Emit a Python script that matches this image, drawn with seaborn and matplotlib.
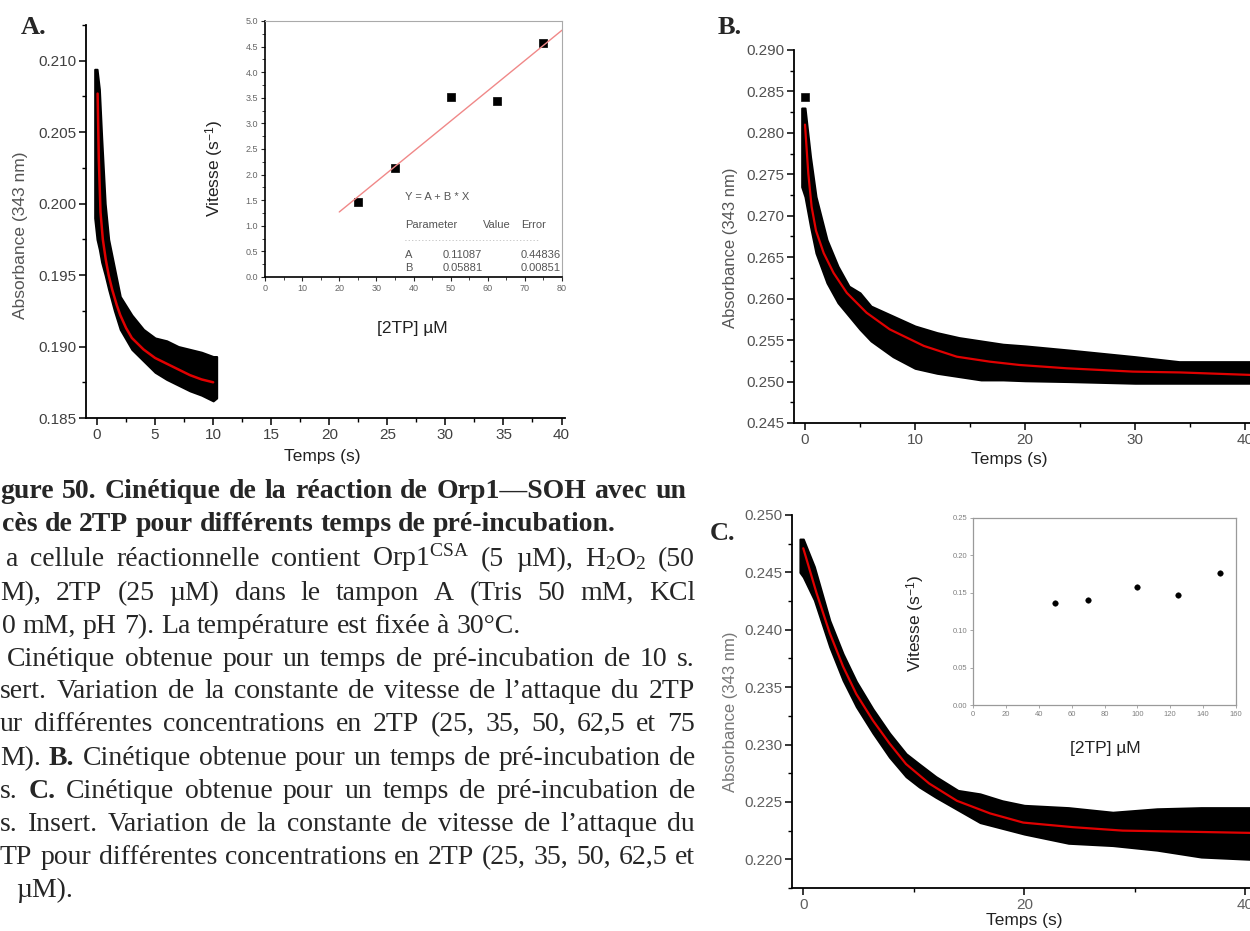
import matplotlib
matplotlib.use('Agg')
import matplotlib.pyplot as plt
import seaborn as sns
from matplotlib.ticker import MultipleLocator, FormatStrFormatter

# ---- panel A : kinetics, 10 s pre-incubation ----
a_band_t = [-0.2, 0.0, 0.2, 0.4, 0.7, 1.0, 1.5, 2.0, 3.0, 4.0, 5.0, 6.0, 7.0, 8.0, 9.0, 10.0, 10.3]
a_band_hi = [0.2094, 0.2094, 0.2080, 0.2046, 0.2000, 0.1975, 0.1955, 0.1935, 0.1922, 0.1912,
             0.1906, 0.1904, 0.1900, 0.1898, 0.1896, 0.1893, 0.1893]
a_band_lo = [0.1990, 0.1975, 0.1968, 0.1959, 0.1950, 0.1940, 0.1925, 0.1912, 0.1898, 0.1890,
             0.1882, 0.1877, 0.1873, 0.1869, 0.1866, 0.1862, 0.1864]
a_fit_t = [0.05, 0.15, 0.3, 0.5, 0.75, 1.0, 1.3, 1.7, 2.0, 2.5, 3.0, 4.0, 5.0, 6.0, 7.0, 8.0, 9.0, 10.0]
a_fit_v = [0.2077, 0.2032, 0.1994, 0.1975, 0.1961, 0.1950, 0.1940, 0.1929, 0.1922, 0.1913,
           0.1906, 0.1898, 0.1892, 0.1888, 0.1884, 0.1880, 0.1877, 0.1875]

# inset A : rate vs [2TP]
ins_a_conc = [25, 35, 50, 62.5, 75]
ins_a_rate = [1.46, 2.13, 3.51, 3.43, 4.57]
ins_a_fit_x = [20, 80]
ins_a_fit_y = [1.27, 4.82]

# ---- panel B ----
b_band_t = [-0.3, 0, 0.5, 1, 2, 3, 4, 5, 6, 8, 10, 12, 14, 16, 18, 20, 24, 30, 34, 40.5]
b_band_hi = [0.2830, 0.2830, 0.2771, 0.2723, 0.2671, 0.2639, 0.2615, 0.2607, 0.2591, 0.2579,
             0.2567, 0.2559, 0.2553, 0.2549, 0.2545, 0.2543, 0.2538, 0.2530, 0.2524, 0.2524]
b_band_lo = [0.2735, 0.2723, 0.2687, 0.2655, 0.2619, 0.2595, 0.2579, 0.2563, 0.2549, 0.2530,
             0.2516, 0.2510, 0.2506, 0.2502, 0.2502, 0.2501, 0.2500, 0.2498, 0.2498, 0.2498]
b_spike_t = [0.0]
b_spike_v = [0.2843]
b_fit_t = [0, 0.3, 0.6, 1.0, 1.7, 2.6, 3.8, 5.6, 7.7, 10.8, 13.8, 16.8, 19.5, 23.8, 29.8, 34.1, 40.5]
b_fit_v = [0.2810, 0.2751, 0.2711, 0.2682, 0.2655, 0.2631, 0.2607, 0.2583, 0.2563, 0.2543,
           0.2530, 0.2524, 0.2520, 0.2516, 0.2512, 0.2511, 0.2508]

# ---- panel C ----
c_band_t = [-0.3, 0, 1, 2.4, 3.6, 4.8, 6.3, 7.8, 9.3, 10.5, 12, 14, 16, 18, 20, 24, 28, 32, 36, 40.5]
c_band_hi = [0.2479, 0.2479, 0.2455, 0.2408, 0.2379, 0.2355, 0.2331, 0.2310, 0.2292, 0.2283,
             0.2272, 0.2260, 0.2257, 0.2251, 0.2247, 0.2245, 0.2241, 0.2244, 0.2245, 0.2245]
c_band_lo = [0.2450, 0.2446, 0.2426, 0.2385, 0.2356, 0.2333, 0.2310, 0.2289, 0.2272, 0.2263,
             0.2254, 0.2243, 0.2232, 0.2227, 0.2222, 0.2214, 0.2212, 0.2208, 0.2202, 0.2200]
c_fit_t = [0, 1.2, 2.4, 3.6, 4.8, 6.3, 7.8, 9.3, 11.4, 13.9, 16.9, 19.9, 24.4, 28.9, 35, 40.5]
c_fit_v = [0.2471, 0.2432, 0.2397, 0.2368, 0.2344, 0.2321, 0.2301, 0.2283, 0.2266, 0.2251,
           0.2240, 0.2232, 0.2228, 0.2225, 0.2224, 0.2223]

# inset C
ins_c_conc = [50, 70, 100, 125, 150]
ins_c_rate = [0.136, 0.141, 0.158, 0.147, 0.176]

fit_table = [("A", "0.11087", "0.44836"), ("B", "0.05881", "0.00851")]

caption_lines = [
    "gure 50. Cinétique de la réaction de Orp1—SOH avec un",
    "cès de 2TP pour différents temps de pré-incubation.",
    "a cellule réactionnelle contient Orp1$^{\\mathrm{CSA}}$ (5 µM), H$_{\\mathrm{2}}$O$_{\\mathrm{2}}$ (50",
    "M), 2TP (25 µM) dans le tampon A (Tris 50 mM, KCl",
    "0 mM, pH 7). La température est fixée à 30°C.",
    "Cinétique obtenue pour un temps de pré-incubation de 10 s.",
    "sert. Variation de la constante de vitesse de l’attaque du 2TP",
    "ur différentes concentrations en 2TP (25, 35, 50, 62,5 et 75",
    "M). **B.** Cinétique obtenue pour un temps de pré-incubation de",
    "s. **C.** Cinétique obtenue pour un temps de pré-incubation de",
    "s. Insert. Variation de la constante de vitesse de l’attaque du",
    "TP pour différentes concentrations en 2TP (25, 35, 50, 62,5 et",
    "µM).",
]
caption_y = [490, 523, 558, 592, 625, 658, 690, 723, 757, 790, 823, 856, 889]
caption_x0 = [0, 2, 6, 0, 2, 7, 0, 0, 0, 0, 0, 0, 16]
caption_x1 = [686, None, 695, 695, None, 695, 695, 695, 695, 695, 695, 695, None]
caption_bold = [True, True] + [False] * 11

sns.set_style('ticks')
plt.rcParams['font.family'] = ['Liberation Sans', 'DejaVu Sans']
plt.rcParams['mathtext.fontset'] = 'custom'
plt.rcParams['mathtext.rm'] = 'Liberation Serif'
plt.rcParams['mathtext.it'] = 'Liberation Serif:italic'
plt.rcParams['mathtext.bf'] = 'Liberation Serif:bold'
plt.rcParams['mathtext.sf'] = 'Liberation Sans'

W, H = 1250, 931
fig = plt.figure(figsize=(12.5, 9.31), dpi=100)


def box(l, t, r, b):
    return [l / W, 1 - b / H, (r - l) / W, (b - t) / H]


def ptext(x, y, s, **kw):
    return fig.text(x / W, 1 - y / H, s, **kw)


def style_main(ax, tcol):
    sns.despine(ax=ax)
    for s in ('left', 'bottom'):
        ax.spines[s].set_linewidth(1.3)
        ax.spines[s].set_color('black')
    ax.tick_params(which='major', direction='out', length=5, width=1.1,
                   labelsize=11, labelcolor=tcol, color='black', pad=2)
    ax.tick_params(which='minor', direction='out', length=3, width=1, color='black')
    ax.yaxis.set_major_formatter(FormatStrFormatter('%.3f'))
    ax.set_xlabel('')
    ax.set_ylabel('')


# ---------- A ----------
ax_a = fig.add_axes(box(86, 25, 565, 418))
ax_a.fill_between(a_band_t, a_band_lo, a_band_hi, color='black', lw=1.5)
sns.lineplot(x=a_fit_t, y=a_fit_v, ax=ax_a, color='#e00000', lw=1.8, sort=False)
ax_a.set_xlim(-0.95, 40.3)
ax_a.set_ylim(0.185, 0.2125)
ax_a.xaxis.set_major_locator(MultipleLocator(5))
ax_a.xaxis.set_minor_locator(MultipleLocator(2.5))
ax_a.yaxis.set_major_locator(MultipleLocator(0.005))
ax_a.yaxis.set_minor_locator(MultipleLocator(0.0025))
style_main(ax_a, '#404040')

ax_ia = fig.add_axes(box(265, 21, 562, 277))
sns.lineplot(x=ins_a_fit_x, y=ins_a_fit_y, ax=ax_ia, color='#f08888', lw=1)
sns.scatterplot(x=ins_a_conc, y=ins_a_rate, ax=ax_ia, marker='s', s=26,
                color='black', edgecolor='black', linewidth=0.5)
ax_ia.set_xlim(0, 80)
ax_ia.set_ylim(0, 5)
ax_ia.xaxis.set_major_locator(MultipleLocator(10))
ax_ia.xaxis.set_minor_locator(MultipleLocator(5))
ax_ia.yaxis.set_major_locator(MultipleLocator(0.5))
ax_ia.yaxis.set_minor_locator(MultipleLocator(0.25))
ax_ia.yaxis.set_major_formatter(FormatStrFormatter('%.1f'))
for s in ('top', 'right'):
    ax_ia.spines[s].set_color('#aaaaaa')
    ax_ia.spines[s].set_linewidth(0.8)
for s in ('left', 'bottom'):
    ax_ia.spines[s].set_color('black')
    ax_ia.spines[s].set_linewidth(1.2)
ax_ia.tick_params(which='major', direction='out', length=3, width=0.8,
                  labelsize=6.5, labelcolor='#666666', pad=2)
ax_ia.tick_params(which='minor', direction='out', length=2, width=0.6)

small = dict(fontsize=8, color='#555555', va='center', ha='left')
ptext(405, 197, 'Y = A + B * X', **small)
ptext(405, 225, 'Parameter', **small)
ptext(483, 225, 'Value', **small)
ptext(521, 225, 'Error', **small)
ptext(405, 240, '- ' * 40, fontsize=4, color='#888888', va='center', ha='left', clip_on=False)
for row, yy in zip(fit_table, [255, 268]):
    ptext(405, yy, row[0], **small)
    ptext(443, yy, row[1], **small)
    ptext(521, yy, row[2], **small)

ptext(21, 235, 'Absorbance (343 nm)', rotation=90, ha='center', va='center',
      fontsize=12.5, color='#555555')
ptext(322, 457, 'Temps (s)', ha='center', va='center', fontsize=12.5, color='#222222')
ptext(215, 168, 'Vitesse (s$^{\\mathsf{-1}}$)', rotation=90, ha='center', va='center',
      fontsize=12.5, color='#222222')
ptext(412, 328, '[2TP] µM', ha='center', va='center', fontsize=12.5, color='#222222')
ptext(21, 28, 'A.', family='Liberation Serif', fontweight='bold', fontsize=19,
      ha='left', va='center')

# ---------- B ----------
ax_b = fig.add_axes(box(794, 50, 1250, 423))
ax_b.fill_between(b_band_t, b_band_lo, b_band_hi, color='black', lw=1.5)
sns.scatterplot(x=b_spike_t, y=b_spike_v, ax=ax_b, marker='s', s=30,
                color='black', edgecolor='black')
sns.lineplot(x=b_fit_t, y=b_fit_v, ax=ax_b, color='#e00000', lw=1.6, sort=False)
ax_b.set_xlim(-1.0, 40.45)
ax_b.set_ylim(0.245, 0.290)
ax_b.xaxis.set_major_locator(MultipleLocator(10))
ax_b.xaxis.set_minor_locator(MultipleLocator(5))
ax_b.yaxis.set_major_locator(MultipleLocator(0.005))
ax_b.yaxis.set_minor_locator(MultipleLocator(0.0025))
style_main(ax_b, '#505050')
ptext(731, 248, 'Absorbance (343 nm)', rotation=90, ha='center', va='center',
      fontsize=12, color='#555555')
ptext(1009, 460, 'Temps (s)', ha='center', va='center', fontsize=12.5, color='#222222')
ptext(718, 27, 'B.', family='Liberation Serif', fontweight='bold', fontsize=19,
      ha='left', va='center')

# ---------- C ----------
ax_c = fig.add_axes(box(792, 515, 1250, 888))
ax_c.fill_between(c_band_t, c_band_lo, c_band_hi, color='black', lw=1.5)
sns.lineplot(x=c_fit_t, y=c_fit_v, ax=ax_c, color='#e00000', lw=1.6, sort=False)
ax_c.set_xlim(-1.02, 40.42)
ax_c.set_ylim(0.2175, 0.250)
ax_c.xaxis.set_major_locator(MultipleLocator(20))
ax_c.xaxis.set_minor_locator(MultipleLocator(10))
ax_c.yaxis.set_major_locator(MultipleLocator(0.005))
ax_c.yaxis.set_minor_locator(MultipleLocator(0.0025))
style_main(ax_c, '#606060')
ptext(730, 712, 'Absorbance (343 nm)', rotation=90, ha='center', va='center',
      fontsize=12, color='#777777')
ptext(1024, 920, 'Temps (s)', ha='center', va='center', fontsize=12.5, color='#222222')
ptext(710, 533, 'C.', family='Liberation Serif', fontweight='bold', fontsize=19,
      ha='left', va='center')

ax_ic = fig.add_axes(box(973, 518, 1236, 705))
sns.scatterplot(x=ins_c_conc, y=ins_c_rate, ax=ax_ic, marker='o', s=16,
                color='black', edgecolor='black')
ax_ic.set_xlim(0, 160)
ax_ic.set_ylim(0, 0.25)
ax_ic.xaxis.set_major_locator(MultipleLocator(20))
ax_ic.yaxis.set_major_locator(MultipleLocator(0.05))
ax_ic.yaxis.set_major_formatter(FormatStrFormatter('%.2f'))
for s in ax_ic.spines.values():
    s.set_color('#9a9a9a')
    s.set_linewidth(0.9)
ax_ic.tick_params(direction='out', length=2, width=0.6, color='#9a9a9a',
                  labelsize=5.5, labelcolor='#808080', pad=2)
ptext(916, 623, 'Vitesse (s$^{\\mathsf{-1}}$)', rotation=90, ha='center', va='center',
      fontsize=12.5, color='#222222')
ptext(1105, 748, '[2TP] µM', ha='center', va='center', fontsize=12.5, color='#222222')

# ---------- caption (justified word by word) ----------
renderer = fig.canvas.get_renderer()
cap_size = 20
for line, yc, x0, x1, bold in zip(caption_lines, caption_y, caption_x0, caption_x1, caption_bold):
    words = line.split(' ')
    arts = []
    for w in words:
        wb = bold
        if w.startswith('**') and w.endswith('**'):
            w = w[2:-2]
            wb = True
        arts.append(fig.text(0, 0, w, family='Liberation Serif', fontsize=cap_size,
                             fontweight='bold' if wb else 'normal', va='baseline', ha='left'))
    widths = [a.get_window_extent(renderer).width for a in arts]
    gap = cap_size * 0.25 * 100 / 72
    if x1 is not None and len(arts) > 1:
        gap = (x1 - x0 - sum(widths)) / (len(arts) - 1)
    x = x0
    for a, w in zip(arts, widths):
        a.set_position((x / W, 1 - (yc + 8) / H))
        x += w + gap

fig.savefig('out.png', dpi=100)
